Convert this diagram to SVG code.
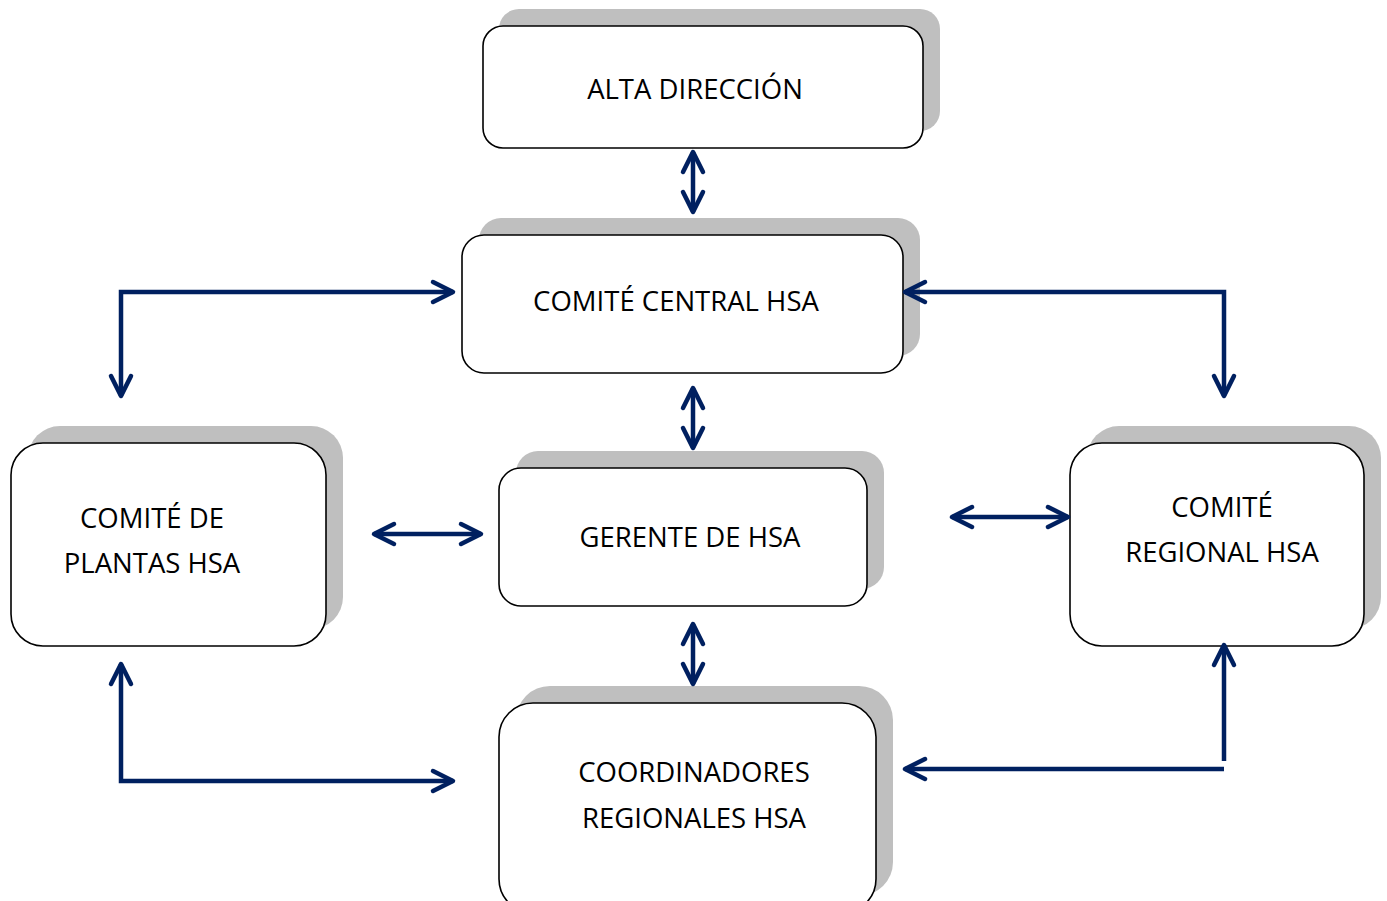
<svg xmlns="http://www.w3.org/2000/svg" width="1387" height="901" viewBox="0 0 1387 901">
<style>
.sh{fill:#bfbfbf;stroke:none}
.bx{fill:#fff;stroke:#000;stroke-width:1.6}
.t{font-family:"Open Sans","Liberation Sans",sans-serif;font-size:27.5px;fill:#000;text-anchor:middle}
.c{fill:none;stroke:#002060;stroke-width:4.5;marker-start:url(#ah);marker-end:url(#ah)}
.c1{fill:none;stroke:#002060;stroke-width:4.5;marker-end:url(#ah)}
</style>
<defs>
<marker id="ah" viewBox="-24 -14 28 28" refX="0" refY="0" markerWidth="28" markerHeight="28" markerUnits="userSpaceOnUse" orient="auto-start-reverse">
<path d="M-20,-10 L0,0 L-20,10" fill="none" stroke="#002060" stroke-width="4.5" stroke-linecap="round" stroke-linejoin="round"/>
</marker>
</defs>
<rect width="1387" height="901" fill="#fff"/>
<g id="n1">
<rect class="sh" x="499" y="9" width="441" height="122" rx="20"/>
<rect class="bx" x="483" y="26" width="440" height="122" rx="20"/>
<text class="t" x="695" y="99">ALTA DIRECCIÓN</text>
</g>
<g id="n2">
<rect class="sh" x="479" y="218" width="441" height="138" rx="22"/>
<rect class="bx" x="462" y="235" width="441" height="138" rx="22"/>
<text class="t" x="676" y="311">COMITÉ CENTRAL HSA</text>
</g>
<g id="n3">
<rect class="sh" x="516" y="451" width="368" height="138" rx="22"/>
<rect class="bx" x="499" y="468" width="368" height="138" rx="22"/>
<text class="t" x="690" y="547">GERENTE DE HSA</text>
</g>
<g id="n4">
<rect class="sh" x="28" y="426" width="315" height="203" rx="32"/>
<rect class="bx" x="11" y="443" width="315" height="203" rx="32"/>
<text class="t" x="152" y="528">COMITÉ DE</text>
<text class="t" x="152" y="573">PLANTAS HSA</text>
</g>
<g id="n5">
<rect class="sh" x="1087" y="426" width="294" height="203" rx="32"/>
<rect class="bx" x="1070" y="443" width="294" height="203" rx="32"/>
<text class="t" x="1222" y="517">COMITÉ</text>
<text class="t" x="1222" y="562">REGIONAL HSA</text>
</g>
<g id="n6">
<rect class="sh" x="516" y="686" width="377" height="210" rx="34"/>
<rect class="bx" x="499" y="703" width="377" height="210" rx="34"/>
<text class="t" x="694" y="782">COORDINADORES</text>
<text class="t" x="694" y="828">REGIONALES HSA</text>
</g>
<g id="connectors">
<path class="c" d="M693,152 V212"/>
<path class="c" d="M121,396 V292 H453"/>
<path class="c" d="M905,292 H1224 V396"/>
<path class="c" d="M693,388 V448"/>
<path class="c" d="M374,534 H481"/>
<path class="c" d="M952,517 H1068"/>
<path class="c" d="M693,624 V684"/>
<path class="c" d="M121,664 V781 H453"/>
<path class="c1" d="M1224,769 H905"/>
<path class="c1" d="M1224,761 V645"/>
</g>
</svg>
